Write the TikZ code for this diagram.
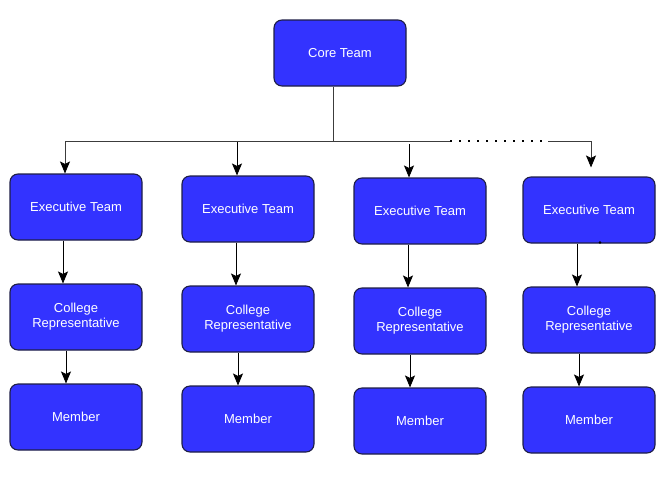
\documentclass[tikz,border=0pt]{standalone}
\usepackage{fontspec}
\setmainfont{Liberation Sans}
\usepackage{tikz}
\usetikzlibrary{arrows.meta}
\definecolor{boxblue}{RGB}{51,51,255}
\definecolor{boxline}{RGB}{30,30,70}
\definecolor{wire}{RGB}{60,60,60}

\begin{document}
\begin{tikzpicture}[x=1pt,y=-1pt,
    teambox/.style={draw=boxline, line width=1.1pt, fill=boxblue, rounded corners=8pt,
      minimum width=132pt, minimum height=66pt, inner sep=0pt, align=center,
      text=white, font=\fontsize{13}{15}\selectfont},
    link/.style={-{Stealth[length=12pt,width=10pt,inset=2.5pt,color=black]}, line width=0.8pt, black}]
    \useasboundingbox (0,0) rectangle (669,480);
    % top
    \node[teambox] (core) at (340,53) {Core Team};
    % executive teams
    \node[teambox] (exec1) at (76,207) {Executive Team};
    \node[teambox] (exec2) at (248,209) {Executive Team};
    \node[teambox] (exec3) at (420,211) {Executive Team};
    \node[teambox] (exec4) at (589,210) {Executive Team};
    % college representatives
    \node[teambox] (coll1) at (76,317) {College\\Representative};
    \node[teambox] (coll2) at (248,319) {College\\Representative};
    \node[teambox] (coll3) at (420,321) {College\\Representative};
    \node[teambox] (coll4) at (589,320) {College\\Representative};
    % members
    \node[teambox] (mem1) at (76,417) {Member};
    \node[teambox] (mem2) at (248,419) {Member};
    \node[teambox] (mem3) at (420,421) {Member};
    \node[teambox] (mem4) at (589,420) {Member};
    % bus
    \coordinate (busL) at (65,141);
    \coordinate (busM) at (333,141);
    \coordinate (dotL) at (450,141);
    \coordinate (dotR) at (548,141);
    \coordinate (busR) at (591,141);
    \draw[wire, line width=0.9pt] ([xshift=-7pt]core.south) -- (busM);
    \draw[link, wire] (dotL) -- (busL) -- ([xshift=-11pt]exec1.north);
    \draw[black, line width=2pt, dash pattern=on 2pt off 7pt] (dotL) -- (dotR);
    \draw[link, wire] (dotR) -- (busR) -- ([xshift=2pt,yshift=9pt]exec4.north);
    \draw[link] ([xshift=-11pt,yshift=33pt]exec2.north) -- ([xshift=-11pt]exec2.north);
    \draw[link] ([xshift=-11pt,yshift=33pt]exec3.north) -- ([xshift=-11pt]exec3.north);
    % down the columns
    \draw[link] ([xshift=-13pt]exec1.south) -- ([xshift=-13pt]coll1.north);
    \draw[link] ([xshift=-12pt]exec2.south) -- ([xshift=-12pt]coll2.north);
    \draw[link] ([xshift=-12pt]exec3.south) -- ([xshift=-12pt]coll3.north);
    \draw[link] ([xshift=-12pt]exec4.south) -- ([xshift=-12pt]coll4.north);
    \draw[link] ([xshift=-10pt]coll1.south) -- ([xshift=-10pt]mem1.north);
    \draw[link] ([xshift=-10pt]coll2.south) -- ([xshift=-10pt]mem2.north);
    \draw[link] ([xshift=-10pt]coll3.south) -- ([xshift=-10pt]mem3.north);
    \draw[link] ([xshift=-10pt]coll4.south) -- ([xshift=-10pt]mem4.north);
    \fill[black] ([xshift=11pt,yshift=1pt]exec4.south) circle (1.4pt);
\end{tikzpicture}
\end{document}
